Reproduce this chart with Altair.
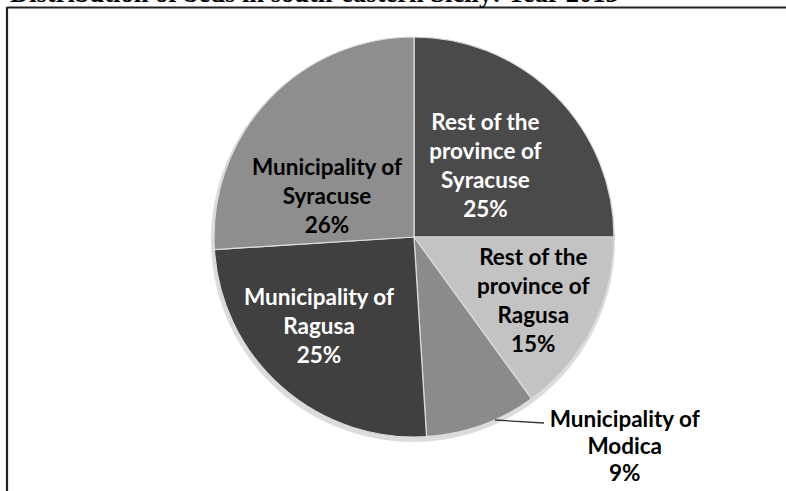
import altair as alt
import pandas as pd

# ---- data ----
categories = [
    "Rest of the province of Syracuse",
    "Rest of the province of Ragusa",
    "Municipality of Modica",
    "Municipality of Ragusa",
    "Municipality of Syracuse",
]
shares = [25, 15, 9, 25, 26]
label_lines = [
    "Rest of the\nprovince of\nSyracuse",
    "Rest of the\nprovince of\nRagusa",
    "Municipality of\nModica",
    "Municipality of\nRagusa",
    "Municipality of\nSyracuse",
]
title_text = "Distribution of beds in south-eastern Sicily: Year 2013"

# ---- styling ----
slice_colors = ["#4a4a4a", "#c3c3c3", "#8b8b8b", "#404040", "#8e8e8e"]
text_colors = ["white", "black", "black", "white", "black"]
CX, CY, R = 414, 237, 200
# (radius, dx, dy, lineHeight) for each label
label_pos = [
    (101, 0, -43, 29),
    (135, -1, -40.5, 29),
    (200, 143, -5, 27),
    (130, -9, -37, 29),
    (96, -17, -3, 29),
]

df = pd.DataFrame({
    "cat": categories,
    "share": shares,
    "order": list(range(len(categories))),
    "label": [f"{l}\n{s}%" for l, s in zip(label_lines, shares)],
})

W, H = 786, 491
base = alt.Chart(df)
one = base.transform_filter(alt.datum.order == 0)

shadow = one.mark_arc(outerRadius=R + 2, color="#9a9a9a", opacity=0.35).encode(
    theta=alt.value(0), theta2=alt.value(6.2832),
    x=alt.value(CX - 1), y=alt.value(CY + 3),
)

pie = base.mark_arc(outerRadius=R, stroke="#dcdcdc", strokeWidth=1.2).encode(
    theta=alt.Theta("share:Q", stack=True),
    order=alt.Order("order:Q"),
    color=alt.Color("cat:N", scale=alt.Scale(domain=categories, range=slice_colors), legend=None),
    x=alt.value(CX),
    y=alt.value(CY),
)

mid = (
    base.transform_joinaggregate(total="sum(share)")
    .transform_window(cum="sum(share)", sort=[alt.SortField("order")], frame=[None, 0])
    .transform_calculate(mid="2*PI*(datum.cum - datum.share/2)/datum.total")
)

labels = []
for cat, col, (r, dx, dy, lh) in zip(categories, text_colors, label_pos):
    labels.append(
        mid.transform_filter(alt.datum.cat == cat)
        .mark_text(
            radius=r, dx=dx, dy=dy, font="Lato", fontWeight="bold", fontSize=22.5,
            lineHeight=lh, lineBreak="\n", align="center", baseline="middle", color=col,
        )
        .encode(
            theta=alt.Theta("mid:Q", scale=None),
            text="label:N",
            x=alt.value(CX),
            y=alt.value(CY),
        )
    )

leader = one.mark_rule(color="#333333", strokeWidth=1.3).encode(
    x=alt.value(495), y=alt.value(420), x2=alt.value(544), y2=alt.value(423)
)

frame_top = one.mark_rule(color="#222222", strokeWidth=2.2).encode(
    x=alt.value(7), x2=alt.value(W), y=alt.value(7.5)
)
frame_left = one.mark_rule(color="#222222", strokeWidth=2.2).encode(
    x=alt.value(7), y=alt.value(7), y2=alt.value(H)
)

title = one.mark_text(
    font="Liberation Serif", fontWeight="bold", fontSize=26.5, align="left",
    baseline="bottom", color="black",
).encode(x=alt.value(10), y=alt.value(7.5), text=alt.value(title_text))

chart = (
    alt.layer(shadow, pie, *labels, leader, frame_top, frame_left, title)
    .resolve_scale(theta="independent")
    .properties(width=W, height=H, padding=0, autosize=alt.AutoSizeParams(type="none"), background="white")
    .configure_view(stroke=None)
)

chart.save("out.html", embed_options={"renderer": "svg", "actions": False})
